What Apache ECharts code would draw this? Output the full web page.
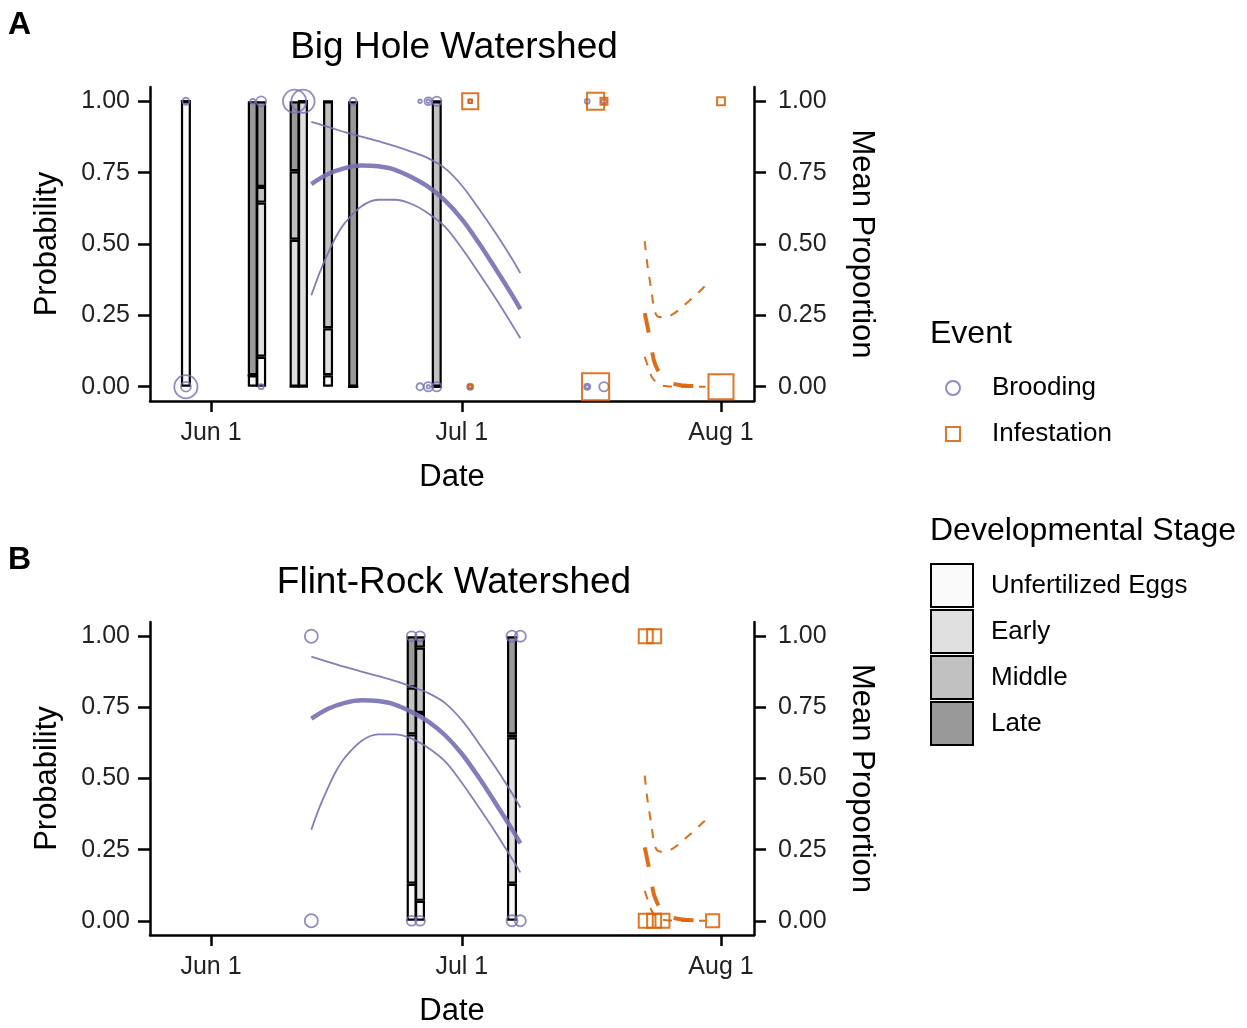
<!DOCTYPE html>
<html><head><meta charset="utf-8">
<script src="https://cdn.jsdelivr.net/npm/echarts@6/dist/echarts.min.js"></script>
<style>html,body{margin:0;padding:0;background:#fff}#c{width:1247px;height:1028px}</style>
</head><body><div id="c"></div>
<script>
// ---------------- data ----------------
const stageNames = ['Unfertilized Eggs', 'Early', 'Middle', 'Late'];
const eventNames = ['Brooding', 'Infestation'];
const panelTitles = ['Big Hole Watershed', 'Flint-Rock Watershed'];
const panelLetters = ['A', 'B'];
const yTicks = [0, 0.25, 0.5, 0.75, 1];
const xTicks = ['2021-06-01', '2021-07-01', '2021-08-01'];
const xRange = ['2021-05-24 16:54', '2021-08-04 22:44'];

// Panel A stacked proportions (bottom to top)
const barDatesA = ['2021-05-29', '2021-06-06', '2021-06-07', '2021-06-11', '2021-06-12', '2021-06-15', '2021-06-18', '2021-06-28'];
const unfertA = [1.00, 0.04, 0.105, 0, 0, 0.04, 0, 0];
const earlyA  = [0, 0, 0.54, 0.515, 1.00, 0.165, 0, 0];
const middleA = [0, 0, 0.055, 0.24, 0, 0.795, 0, 1.00];
const lateA   = [0, 0.96, 0.30, 0.245, 0, 0, 1.00, 0];

// Panel B stacked proportions
const barDatesB = ['2021-06-25', '2021-06-26', '2021-07-07'];
const unfertB = [0.13, 0.07, 0.13];
const earlyB  = [0.525, 0.66, 0.515];
const middleB = [0.165, 0.23, 0.01];
const lateB   = [0.18, 0.04, 0.345];

// Event observations: [date, outcome, count]
const broodA = [
  ['2021-05-29', 1, 4], ['2021-06-06', 1, 2], ['2021-06-07', 1, 8], ['2021-06-11', 1, 44], ['2021-06-12', 1, 44],
  ['2021-06-18', 1, 4], ['2021-06-26', 1, 1], ['2021-06-27', 1, 5], ['2021-06-27', 1, 1], ['2021-06-28', 1, 7],
  ['2021-07-02', 1, 1], ['2021-07-16', 1, 2], ['2021-07-18', 1, 2],
  ['2021-05-29', 0, 44], ['2021-05-29', 0, 8], ['2021-06-07', 0, 2], ['2021-06-26', 0, 4], ['2021-06-27', 0, 7],
  ['2021-06-27', 0, 1], ['2021-06-28', 0, 7], ['2021-07-02', 0, 3], ['2021-07-02', 0, 1], ['2021-07-16', 0, 3],
  ['2021-07-16', 0, 1], ['2021-07-18', 0, 7]
];
const infestA = [
  ['2021-07-02', 1, 21], ['2021-07-02', 1, 1], ['2021-07-17', 1, 24], ['2021-07-18', 1, 4], ['2021-08-01', 1, 5],
  ['2021-07-02', 0, 1], ['2021-07-17', 0, 60], ['2021-08-01', 0, 51]
];
const broodB = [
  ['2021-06-13', 1, 14], ['2021-06-13', 0, 14], ['2021-06-25', 1, 8], ['2021-06-25', 0, 8],
  ['2021-06-26', 1, 8], ['2021-06-26', 0, 8], ['2021-07-07', 1, 10], ['2021-07-07', 0, 10],
  ['2021-07-08', 1, 10], ['2021-07-08', 0, 10]
];
const infestB = [
  ['2021-07-23', 1, 16], ['2021-07-24', 1, 16],
  ['2021-07-23', 0, 16], ['2021-07-24', 0, 16], ['2021-07-25', 0, 16], ['2021-07-31', 0, 14]
];

// Brooding fitted probability and bounds
const broodFitDates = ['2021-06-13', '2021-06-15', '2021-06-17', '2021-06-19', '2021-06-21', '2021-06-23', '2021-06-25',
  '2021-06-27', '2021-06-29', '2021-07-01', '2021-07-03', '2021-07-05', '2021-07-07', '2021-07-08'];
const broodFit = [0.71, 0.745, 0.766, 0.775, 0.772, 0.76, 0.734, 0.70, 0.652, 0.587, 0.505, 0.415, 0.322, 0.272];
const broodHi  = [0.928, 0.91, 0.892, 0.876, 0.86, 0.843, 0.823, 0.80, 0.765, 0.705, 0.625, 0.54, 0.448, 0.398];
const broodLoDates = ['2021-06-13', '2021-06-14', '2021-06-15', '2021-06-16', '2021-06-17', '2021-06-19', '2021-06-21', '2021-06-23',
  '2021-06-25', '2021-06-27', '2021-06-29', '2021-07-01', '2021-07-03', '2021-07-05', '2021-07-07', '2021-07-08'];
const broodLo  = [0.32, 0.40, 0.468, 0.528, 0.573, 0.632, 0.655, 0.655, 0.64, 0.607, 0.56, 0.485, 0.40, 0.312, 0.218, 0.17];

// Infestation fitted probability and bounds
const infFitDates = ['2021-07-22 21:00', '2021-07-23 06:00', '2021-07-23 12:00', '2021-07-23 18:00', '2021-07-24 00:00', '2021-07-24 12:00',
  '2021-07-25 00:00', '2021-07-25 12:00', '2021-07-26 00:00', '2021-07-27 00:00', '2021-07-28 00:00', '2021-07-29 00:00', '2021-07-30 03:00'];
const infFit = [0.258, 0.205, 0.165, 0.125, 0.09, 0.055, 0.036, 0.022, 0.013, 0.006, 0.003, 0.002, 0.001];
const infHiDates = ['2021-07-22 21:00', '2021-07-23 06:00', '2021-07-23 12:00', '2021-07-23 18:00', '2021-07-24 00:00', '2021-07-24 06:00',
  '2021-07-24 12:00', '2021-07-25 00:00', '2021-07-26 00:00', '2021-07-27 00:00', '2021-07-28 00:00', '2021-07-29 00:00', '2021-07-30 00:00', '2021-07-30 20:00'];
const infHi = [0.51, 0.415, 0.37, 0.32, 0.273, 0.252, 0.245, 0.243, 0.25, 0.27, 0.296, 0.322, 0.35, 0.374];
const infLoDates = ['2021-07-22 21:00', '2021-07-23 06:00', '2021-07-23 12:00', '2021-07-23 18:00', '2021-07-24 06:00', '2021-07-24 18:00',
  '2021-07-25 12:00', '2021-07-26 12:00', '2021-07-28 00:00', '2021-07-30 03:00'];
const infLo = [0.105, 0.072, 0.05, 0.033, 0.015, 0.006, 0.002, 0.0005, 0, 0];

// ---------------- helpers & styling ----------------
const ts = s => {
  const [d, t] = s.split(' ');
  const [Y, M, D] = d.split('-').map(Number);
  const [h, m] = t ? t.split(':').map(Number) : [0, 0];
  return Date.UTC(Y, M - 1, D, h, m);
};
const FONT = '"Liberation Sans", Arial, Helvetica, sans-serif';
const stageColors = ['#f9f9f9', '#e0e0e0', '#c1c1c1', '#999999'];
const PURPLE = '#7570b3', ORANGE = '#d95f02';
const MONTHS = ['Jan','Feb','Mar','Apr','May','Jun','Jul','Aug','Sep','Oct','Nov','Dec'];
const gridTops = [87, 622];

const panels = [
  { dates: barDatesA, stages: [unfertA, earlyA, middleA, lateA], brood: broodA, infest: infestA },
  { dates: barDatesB, stages: [unfertB, earlyB, middleB, lateB], brood: broodB, infest: infestB }
];

const zip = (xs, ys) => xs.map((x, i) => [ts(x), ys[i]]);
// value first, date second: so the stacked dimension is the value (y) dimension
const zipStack = (xs, ys) => xs.map((x, i) => [ys[i], ts(x)]);
const pts = arr => arr.map(r => [ts(r[0]), r[1], r[2]]);
const sizeOf = v => 3.5 * Math.sqrt(v[2]);
const xTickVals = xTicks.map(ts);

const grids = [], xAxes = [], yAxes = [], series = [], graphics = [];
const axisLineStyle = { color: '#000', width: 2.5 };
const tickLabel = { fontSize: 25, color: '#222', fontFamily: FONT };
const nameStyle = { fontSize: 31, color: '#000', fontFamily: FONT };

panels.forEach((p, k) => {
  grids.push({ left: 150, top: gridTops[k], width: 604, height: 314 });
  xAxes.push({
    type: 'value', gridIndex: k, min: ts(xRange[0]), max: ts(xRange[1]), scale: true,
    axisLine: { show: true, onZero: false, lineStyle: axisLineStyle },
    axisTick: { show: true, length: 11, customValues: xTickVals, lineStyle: axisLineStyle },
    axisLabel: { customValues: xTickVals, margin: 20, ...tickLabel,
      formatter: v => { const d = new Date(v); return MONTHS[d.getUTCMonth()] + ' ' + d.getUTCDate(); } },
    splitLine: { show: false },
    name: 'Date', nameLocation: 'middle', nameGap: 61, nameTextStyle: nameStyle
  });
  const yBase = {
    type: 'value', gridIndex: k, min: -0.05, max: 1.05,
    axisLine: { show: true, onZero: false, lineStyle: axisLineStyle },
    axisTick: { show: true, length: 12, customValues: yTicks, lineStyle: axisLineStyle },
    splitLine: { show: false },
    nameLocation: 'middle', nameTextStyle: nameStyle
  };
  yAxes.push({ ...yBase, position: 'left', name: 'Probability', nameGap: 87,
    axisLabel: { customValues: yTicks, margin: 20, formatter: v => v.toFixed(2), ...tickLabel } });
  yAxes.push({ ...yBase, position: 'right', name: 'Mean Proportion', nameGap: 92, nameRotate: -90,
    axisLabel: { customValues: yTicks, margin: 24, formatter: v => v.toFixed(2), ...tickLabel } });

  p.stages.forEach((vals, i) => {
    series.push({
      type: 'bar', name: stageNames[i], xAxisIndex: k, yAxisIndex: 2 * k, stack: 'stage' + k,
      encode: { x: 1, y: 0 },
      barWidth: 10, z: 2, silent: true,
      itemStyle: { color: stageColors[i], borderColor: '#000', borderWidth: 2.2 },
      data: zipStack(p.dates, vals)
    });
  });
  series.push({
    type: 'scatter', name: 'Brooding', xAxisIndex: k, yAxisIndex: 2 * k, symbol: 'circle', z: 4,
    symbolSize: sizeOf, silent: true,
    itemStyle: { color: 'rgba(0,0,0,0)', borderColor: PURPLE, borderWidth: 1.8, opacity: 0.8 },
    data: pts(p.brood)
  });
  series.push({
    type: 'scatter', name: 'Infestation', xAxisIndex: k, yAxisIndex: 2 * k, symbol: 'rect', z: 4,
    symbolSize: sizeOf, silent: true,
    itemStyle: { color: 'rgba(0,0,0,0)', borderColor: ORANGE, borderWidth: 2, opacity: 0.85 },
    data: pts(p.infest)
  });
  const line = (data, color, width, type) => ({
    type: 'line', xAxisIndex: k, yAxisIndex: 2 * k, data, showSymbol: false, symbol: 'none',
    smooth: 0.35, z: 5, silent: true,
    lineStyle: { color, width, type, opacity: 0.9, cap: 'butt' }
  });
  series.push(line(zip(broodFitDates, broodHi), PURPLE, 1.8, 'solid'));
  series.push(line(zip(broodLoDates, broodLo), PURPLE, 1.8, 'solid'));
  series.push(line(zip(broodFitDates, broodFit), PURPLE, 4.5, 'solid'));
  series.push(line(zip(infHiDates, infHi), ORANGE, 2, [9, 9]));
  series.push(line(zip(infLoDates, infLo), ORANGE, 2, [9, 9]));
  series.push(line(zip(infFitDates, infFit), ORANGE, 4, [20, 20]));

  graphics.push({ type: 'text', x: 8, y: gridTops[k] - 78, style: { text: panelLetters[k], font: 'bold 32px ' + FONT, fill: '#000' } });
  graphics.push({ type: 'text', x: 454, y: gridTops[k] - 39, style: { text: panelTitles[k], font: '37px ' + FONT, fill: '#000', textAlign: 'center', textVerticalAlign: 'middle' } });
});

graphics.push({ type: 'text', x: 930, y: 334, style: { text: 'Event', font: '32px ' + FONT, fill: '#000', textVerticalAlign: 'middle' } });
graphics.push({ type: 'text', x: 930, y: 531, style: { text: 'Developmental Stage', font: '32px ' + FONT, fill: '#000', textVerticalAlign: 'middle' } });

const option = {
  animation: false,
  backgroundColor: '#fff',
  grid: grids, xAxis: xAxes, yAxis: yAxes, series,
  legend: [
    { data: eventNames, orient: 'vertical', left: 945, top: 375, padding: 0, itemWidth: 14, itemHeight: 14, itemGap: 20,
      selectedMode: false, textStyle: { fontSize: 26, color: '#000', fontFamily: FONT, padding: [0, 0, 0, 27] } },
    { data: stageNames, orient: 'vertical', left: 930, top: 563, padding: 0, itemWidth: 42, itemHeight: 43, itemGap: 1,
      icon: 'rect', selectedMode: false, textStyle: { fontSize: 26, color: '#000', fontFamily: FONT, padding: [0, 0, 0, 13] } }
  ],
  graphic: graphics
};
const chart = echarts.init(document.getElementById('c'), null, { renderer: 'canvas' });
chart.setOption(option);
</script></body></html>
